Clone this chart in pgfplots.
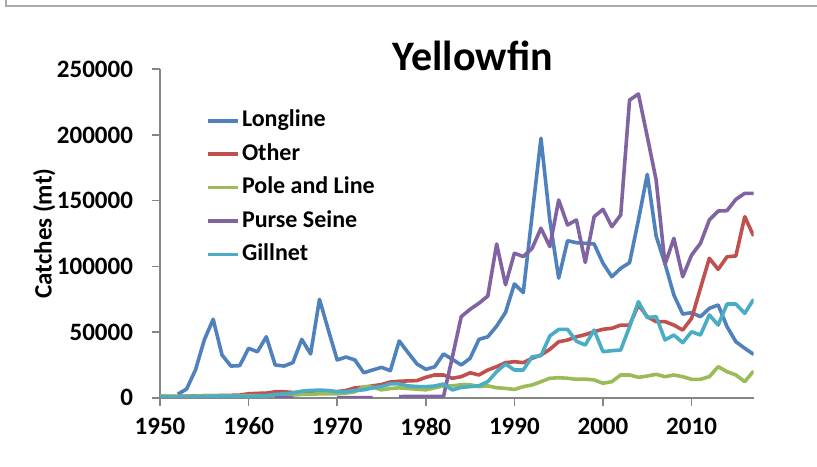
\documentclass[border=0pt]{standalone}
\usepackage{pgfplots}
\pgfplotsset{compat=1.18}
\usepackage{pgfplotstable}
\usepackage{fontspec}
\setmainfont{Carlito}

\definecolor{cLL}{HTML}{4F81BD}
\definecolor{cOT}{HTML}{C0504D}
\definecolor{cPL}{HTML}{9BBB59}
\definecolor{cPS}{HTML}{8064A2}
\definecolor{cGN}{HTML}{4BACC6}
\definecolor{axgray}{HTML}{868686}

% year, Longline, Other, Pole and Line, Purse Seine, Gillnet
\pgfplotstableread{
year LL OT PL PS GN
1950 nan 1000 1500 nan 500
1951 nan 1000 1200 nan 500
1952 2600 1000 1000 nan 500
1953 6600 1200 1000 nan 600
1954 21000 1300 1200 nan 800
1955 44000 1500 1500 nan 1000
1956 59700 1500 1500 nan 1200
1957 32500 1700 1500 nan 1200
1958 24100 1800 1200 nan 1000
1959 24400 2000 1200 nan 1000
1960 37600 3000 1500 nan 1000
1961 35000 3300 1500 nan 1200
1962 46400 3500 1500 nan 1500
1963 24900 4500 2000 0 2500
1964 24100 4500 2000 0 3000
1965 26700 4000 2000 0 3500
1966 44400 4000 2500 nan 5000
1967 33300 4500 2500 nan 5500
1968 74900 5000 3000 nan 5800
1969 51500 4800 3000 nan 5500
1970 28700 4600 3000 0 4500
1971 31000 5500 3500 0 4500
1972 28700 7500 4500 0 5500
1973 19000 8000 8500 0 6000
1974 21100 9000 8000 0 7500
1975 23100 10000 6000 nan 8500
1976 20600 12000 7000 nan 10500
1977 43200 12500 7500 800 10500
1978 34300 12800 7000 1000 9000
1979 25700 13000 6500 1000 8500
1980 21600 15500 6000 1000 8400
1981 23500 17300 7500 1000 8900
1982 33300 17300 9000 1000 10400
1983 29200 14800 9000 31000 5900
1984 24900 16000 9900 61700 7900
1985 30000 19000 9900 67300 8400
1986 44400 17300 8400 71900 9100
1987 46400 21100 9000 77400 12200
1988 54500 23600 7600 117000 19800
1989 65000 26700 7100 86000 25700
1990 86600 27400 6300 110000 21100
1991 80000 26700 8400 107500 21100
1992 139000 30000 9700 113700 31200
1993 197500 32500 12200 129000 32000
1994 135000 36800 14800 115000 47000
1995 91000 42600 15200 150500 52000
1996 119500 43900 14800 131500 52000
1997 118000 46400 14000 135300 43000
1998 117500 48000 14200 103000 40100
1999 117000 50300 13500 137800 51500
2000 102300 52100 11000 143400 35000
2001 92100 52800 12200 130200 35800
2002 98500 55300 17300 139100 36300
2003 102800 55300 17300 226600 54100
2004 135300 70600 15500 231200 73100
2005 170000 61700 16500 198700 60900
2006 123000 57900 17800 165700 61700
2007 102000 57900 16000 101500 44000
2008 78200 55300 17300 121300 47700
2009 63700 51500 16000 92100 41900
2010 64700 60400 14000 108600 50200
2011 61700 83300 14000 117500 47700
2012 68000 106100 16000 135300 63000
2013 70600 97700 23600 142100 55300
2014 54100 107300 19800 142400 71300
2015 42600 107900 17300 151000 71300
2016 37600 137800 12200 155600 64200
2017 33000 123100 20300 155600 74900
}\yft

\begin{document}
\begin{tikzpicture}
\useasboundingbox (0,0) rectangle (408.5pt,233pt);
\draw[axgray!70, line width=0.6pt] (3pt,240pt) -- (3pt,230pt) -- (420pt,230pt);
\begin{axis}[
    at={(80pt,34.15pt)}, anchor=south west,
    scale only axis, width=296.8pt, height=164.2pt,
    xmin=1950, xmax=2017, ymin=0, ymax=250000,
    axis lines=left,
    axis line style={-, axgray, line width=0.8pt},
    tick align=outside, tick style={axgray, line width=0.8pt},
    major tick length=4pt,
    xtick={1950,1960,...,2010},
    ytick={0,50000,...,250000},
    scaled y ticks=false,
    /pgf/number format/fixed,
    /pgf/number format/1000 sep={},
    /pgf/number format/assume math mode=true,
    tick label style={font=\fontsize{12.5}{14}\selectfont\bfseries},
    xticklabel style={yshift=-2.5pt},
    yticklabel style={xshift=-6pt},
    ylabel={Catches (mt)},
    ylabel style={font=\fontsize{12.5}{14}\selectfont\bfseries, at={(axis description cs:-0.195,0.5)}, anchor=center},
    title={Yellowfin},
    title style={font=\fontsize{21}{24}\selectfont\bfseries, at={(axis description cs:0.527,0.961)}, anchor=base, yshift=0pt},
    unbounded coords=jump,
    every axis plot/.append style={line width=1.8pt, line join=round, no markers},
    legend cell align=left,
    legend style={at={(axis description cs:0.0775,0.887)}, anchor=north west,
        draw=none, fill=none, inner sep=0pt, row sep=2.7pt,
        font=\fontsize{12}{14}\selectfont\bfseries,
        nodes={inner sep=1pt, text height=9pt, text depth=3pt}},
    legend image code/.code={\draw[#1] (0pt,0pt) -- (15pt,0pt);},
]
\addplot[cLL] table[x=year, y=LL] {\yft};
\addlegendentry{Longline}
\addplot[cOT] table[x=year, y=OT] {\yft};
\addlegendentry{Other}
\addplot[cPL] table[x=year, y=PL] {\yft};
\addlegendentry{Pole and Line}
\addplot[cPS] table[x=year, y=PS] {\yft};
\addlegendentry{Purse Seine}
\addplot[cGN] table[x=year, y=GN] {\yft};
\addlegendentry{Gillnet}
\end{axis}
\end{tikzpicture}
\end{document}
